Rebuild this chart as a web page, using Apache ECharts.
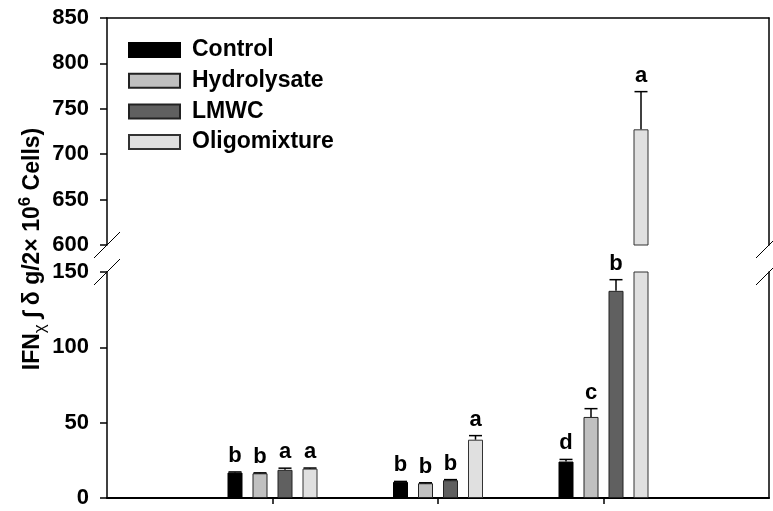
<!DOCTYPE html>
<html>
<head>
<meta charset="utf-8">
<script src="https://cdn.jsdelivr.net/npm/echarts@6/dist/echarts.min.js"></script>
<style>
  html, body { margin: 0; padding: 0; background: #fff; }
  #chart { width: 773px; height: 511px; }
</style>
</head>
<body>
<div id="chart"></div>
<script>
// Treatment groups along the x axis (unlabelled on the chart)
const groups = ['I', 'II', 'III'];
const seriesNames = ['Control', 'Hydrolysate', 'LMWC', 'Oligomixture'];

// Mean IFN values per group
const control      = [16.9, 10.7, 24.2];
const hydrolysate  = [16.4,  9.8, 53.8];
const lmwc         = [18.7, 11.8, 137.5];
const oligomixture = [19.5, 38.7, 727.4];

// One-sided error (upper) per group
const controlErr      = [0.4, 0.3, 1.4];
const hydrolysateErr  = [0.3, 0.3, 5.5];
const lmwcErr         = [1.1, 0.4, 7.4];
const oligomixtureErr = [0.4, 2.7, 41.5];

// Significance letters per group
const controlLetters      = ['b', 'b', 'd'];
const hydrolysateLetters  = ['b', 'b', 'c'];
const lmwcLetters         = ['a', 'b', 'b'];
const oligomixtureLetters = ['a', 'a', 'a'];

// Tick labels of the two axis segments
const lowerTicks = [0, 50, 100, 150];
const upperTicks = [600, 650, 700, 750, 800, 850];

const values  = [control, hydrolysate, lmwc, oligomixture];
const errors  = [controlErr, hydrolysateErr, lmwcErr, oligomixtureErr];
const letters = [controlLetters, hydrolysateLetters, lmwcLetters, oligomixtureLetters];

const colors  = ['#000000', '#c0c0c0', '#606060', '#e0e0e0'];
const borders = ['#000000', '#222222', '#222222', '#333333'];

// Layout
const FONT = "'Liberation Sans', Arial, Helvetica, sans-serif";
const PLOT_LEFT = 107, PLOT_RIGHT = 769;
const UP_TOP = 18, UP_BOTTOM = 245;
const LO_TOP = 272, LO_BOTTOM = 498;
const BAR_W = 15, BAR_STEP = 25;
const CAP_HALF = 6.5;
const LETTER_GAP = 5;

// category slots: empty slot at each end so groups sit at 1/4, 2/4, 3/4
const cats = [''].concat(groups).concat(['']);
const pad = arr => ['-'].concat(arr).concat(['-']);

const lowerMax = lowerTicks[lowerTicks.length - 1];
const upperMin = upperTicks[0];

function axisCommon() {
  return {
    axisLine: { show: true, onZero: false, lineStyle: { color: '#000', width: 1.5 } },
    splitLine: { show: false }
  };
}

const yLabel = { fontSize: 22, fontWeight: 'bold', color: '#000', fontFamily: FONT, margin: 18 };

const series = [];
seriesNames.forEach((name, i) => {
  const style = { color: colors[i], borderColor: borders[i], borderWidth: 1 };
  series.push({
    type: 'bar', name, xAxisIndex: 1, yAxisIndex: 1,
    data: pad(values[i]), barWidth: BAR_W, barGap: ((BAR_STEP - BAR_W) / BAR_W * 100) + '%',
    itemStyle: style, clip: true, silent: true
  });
  series.push({
    type: 'bar', name, xAxisIndex: 0, yAxisIndex: 0,
    data: pad(values[i]).map(v => (v !== '-' && v >= upperMin) ? v : '-'),
    barWidth: BAR_W, barGap: ((BAR_STEP - BAR_W) / BAR_W * 100) + '%',
    itemStyle: style, clip: true, silent: true
  });
});

// error bars + letters, split by axis segment
const errLower = [], errUpper = [];
values.forEach((arr, s) => arr.forEach((v, g) => {
  const row = [g + 1, v, errors[s][g], s, g];
  if (v <= lowerMax) errLower.push(row);
  if (v >= upperMin) errUpper.push(row);
}));

function renderErr(params, api) {
  const xi = api.value(0), v = api.value(1), e = api.value(2), s = api.value(3), g = api.value(4);
  const base = api.coord([xi, v]);
  const top = api.coord([xi, v + e]);
  const x = base[0] + (s - 1.5) * BAR_STEP;
  const ls = { stroke: '#000', lineWidth: 1.5 };
  return {
    type: 'group',
    children: [
      { type: 'line', shape: { x1: x, y1: base[1], x2: x, y2: top[1] }, style: ls },
      { type: 'line', shape: { x1: x - CAP_HALF, y1: top[1], x2: x + CAP_HALF, y2: top[1] }, style: ls },
      { type: 'text', x: x, y: top[1] - LETTER_GAP,
        style: { text: letters[s][g], align: 'center', verticalAlign: 'bottom',
                 fontSize: 22, fontWeight: 'bold', fontFamily: FONT, fill: '#000' } }
    ]
  };
}

series.push({ type: 'custom', xAxisIndex: 1, yAxisIndex: 1, data: errLower, renderItem: renderErr, silent: true, z: 5 });
series.push({ type: 'custom', xAxisIndex: 0, yAxisIndex: 0, data: errUpper, renderItem: renderErr, silent: true, z: 5 });

// axis break marks on both sides
const breakLines = [];
[PLOT_LEFT, PLOT_RIGHT].forEach(x => {
  [UP_BOTTOM, LO_TOP].forEach(y => {
    breakLines.push({
      type: 'line', silent: true,
      shape: { x1: x - 13, y1: y + 13, x2: x + 13, y2: y - 13 },
      style: { stroke: '#000', lineWidth: 1 }
    });
  });
});

const option = {
  animation: false,
  backgroundColor: '#fff',
  grid: [
    { left: PLOT_LEFT, width: PLOT_RIGHT - PLOT_LEFT, top: UP_TOP, height: UP_BOTTOM - UP_TOP },
    { left: PLOT_LEFT, width: PLOT_RIGHT - PLOT_LEFT, top: LO_TOP, height: LO_BOTTOM - LO_TOP }
  ],
  xAxis: [
    Object.assign(axisCommon(), {
      gridIndex: 0, type: 'category', data: cats, boundaryGap: false, position: 'top',
      axisTick: { show: false }, axisLabel: { show: false }
    }),
    Object.assign(axisCommon(), {
      gridIndex: 1, type: 'category', data: cats, boundaryGap: false, position: 'bottom',
      axisLine: { show: true, onZero: false, lineStyle: { color: '#000', width: 2 } },
      axisTick: { show: true, length: 6, interval: (i) => i > 0 && i < cats.length - 1,
                  lineStyle: { color: '#000', width: 1.5 } },
      axisLabel: { show: false }
    })
  ],
  yAxis: [
    Object.assign(axisCommon(), {
      gridIndex: 0, type: 'value', position: 'left',
      min: upperTicks[0], max: upperTicks[upperTicks.length - 1], interval: upperTicks[1] - upperTicks[0],
      axisTick: { show: true, length: 7, lineStyle: { color: '#000', width: 1.5 } },
      axisLabel: yLabel
    }),
    Object.assign(axisCommon(), {
      gridIndex: 1, type: 'value', position: 'left',
      min: lowerTicks[0], max: lowerMax, interval: lowerTicks[1] - lowerTicks[0],
      axisTick: { show: true, length: 7, lineStyle: { color: '#000', width: 1.5 } },
      axisLabel: yLabel
    }),
    Object.assign(axisCommon(), {
      gridIndex: 0, type: 'value', position: 'right',
      axisTick: { show: false }, axisLabel: { show: false }
    }),
    Object.assign(axisCommon(), {
      gridIndex: 1, type: 'value', position: 'right',
      axisTick: { show: false }, axisLabel: { show: false }
    })
  ],
  legend: {
    data: seriesNames, orient: 'vertical', left: 128, top: 38.5, padding: 0,
    icon: 'rect', itemWidth: 51, itemHeight: 14, itemGap: 7.7,
    selectedMode: false,
    textStyle: { fontSize: 23, fontWeight: 'bold', color: '#000', fontFamily: FONT,
                 lineHeight: 22, padding: [0, 0, 0, 7] }
  },
  graphic: breakLines.concat([{
    type: 'text', silent: true,
    x: 33, y: 249, rotation: Math.PI / 2,
    style: {
      text: '{n|IFN}{sub|χ}{n| ∫ δ g/2× 10}{sup|6}{n| Cells)}',
      align: 'center', verticalAlign: 'middle', fill: '#000',
      rich: {
        n:   { fontSize: 23, fontWeight: 'bold', fontFamily: FONT, lineHeight: 32, fill: '#000' },
        sub: { fontSize: 17, fontFamily: FONT, verticalAlign: 'bottom', lineHeight: 16, fill: '#000' },
        sup: { fontSize: 17, fontWeight: 'bold', fontFamily: FONT, verticalAlign: 'top', lineHeight: 16, fill: '#000' }
      }
    }
  }]),
  series
};

const chart = echarts.init(document.getElementById('chart'), null, { renderer: 'canvas' });
chart.setOption(option);
</script>
</body>
</html>
